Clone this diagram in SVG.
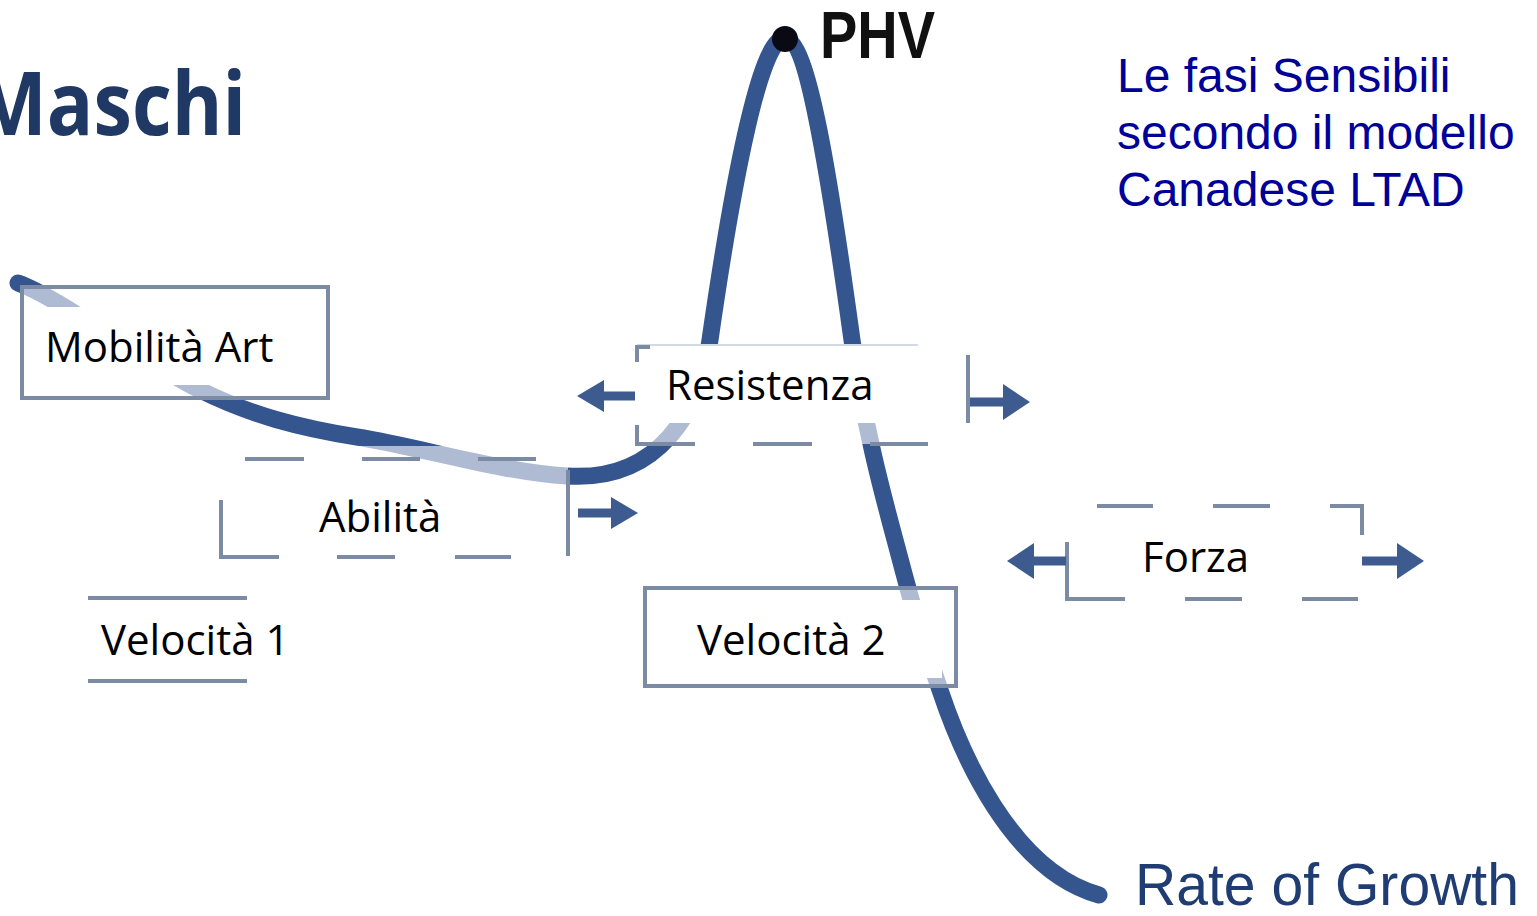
<svg xmlns="http://www.w3.org/2000/svg" width="1537" height="916" viewBox="0 0 1537 916">
<defs>
<style>
.lbl{font-family:"Open Sans","Noto Sans","DejaVu Sans",sans-serif;font-size:42px;fill:#000}
.frame{fill:#fff;fill-opacity:0.6;stroke:#7b8ba3;stroke-width:4}
.veil{fill:#fff;fill-opacity:0.6}
.pad{fill:#fff}
.dash{stroke:#7b8ba3;stroke-width:4;fill:none}
.faint{stroke:#d3dae4;stroke-width:2;fill:none}
.shaft{stroke:#3d5b8f;stroke-width:9;fill:none}
.head{fill:#3d5b8f}
.blue{font-family:"Liberation Sans",Arial,sans-serif;font-size:48px;fill:#000099}
</style>
</defs>
<rect width="1537" height="916" fill="#fff"/>

<g id="title">
<text x="-26" y="135" font-family="Open Sans, Noto Sans, sans-serif" font-weight="bold" font-size="87" fill="#1f3864" textLength="272" lengthAdjust="spacingAndGlyphs">Maschi</text>
</g>

<g id="growth-curve">
<path d="M 18,283 C 60,298 140,360 200,390 C 250,415 300,428 357,437 C 420,447 500,472 567,476 C 660,482 700,410 710,340 C 733,180 760,40 784,38 C 808,38 830,180 852,340 C 866,440 890,520 903,570 C 916,620 926,650 940,690 C 960,750 1010,870 1099,895" fill="none" stroke="#35558e" stroke-width="17" stroke-linecap="round" stroke-linejoin="round"/>
<circle cx="785" cy="39" r="13" fill="#0a0a14"/>
</g>

<g id="node-mobilita">
<rect class="frame" x="22" y="287" width="306" height="111"/>
<rect class="pad" x="25" y="307" width="300" height="78"/>
<text class="lbl" x="45" y="362">Mobilità Art</text>
</g>

<g id="node-abilita">
<rect class="veil" x="221" y="446" width="347" height="111"/>
<rect class="pad" x="232" y="484" width="328" height="66"/>
<path class="dash" d="M 245,459 H 304 M 362,459 H 420 M 478,459 H 536 M 221,500 V 557 H 279 M 337,557 H 395 M 455,557 H 511 M 568,470 V 556"/>
<text class="lbl" x="319" y="532">Abilità</text>
</g>

<g id="node-resistenza">
<rect class="veil" x="637" y="345" width="331" height="99"/>
<rect class="pad" x="645" y="345" width="273" height="78"/>
<path class="faint" d="M 637,345 H 918"/>
<path class="dash" d="M 637,362 V 347 H 650 M 637,425 V 444 H 695 M 753,444 H 812 M 870,444 H 928 M 968,355 V 423"/>
<text class="lbl" x="666" y="400">Resistenza</text>
</g>

<g id="node-forza">
<path class="dash" d="M 1097,506 H 1153 M 1213,506 H 1270 M 1330,506 H 1362 V 535 M 1067,542 V 599 H 1125 M 1185,599 H 1242 M 1302,599 H 1358"/>
<text class="lbl" x="1142" y="572">Forza</text>
</g>

<g id="node-velocita1">
<path class="dash" d="M 88,598 H 247 M 88,681 H 247"/>
<text class="lbl" x="101" y="655">Velocità 1</text>
</g>

<g id="node-velocita2">
<rect class="frame" x="645" y="588" width="311" height="98"/>
<rect class="pad" x="647" y="600" width="295" height="78"/>
<text class="lbl" x="697" y="655">Velocità 2</text>
</g>

<g id="connectors">
<path class="shaft" d="M 635,396 H 600"/>
<polygon class="head" points="577,396 604,380 604,412"/>
<path class="shaft" d="M 970,402 H 1005"/>
<polygon class="head" points="1030,402 1003,384 1003,420"/>
<path class="shaft" d="M 578,513 H 612"/>
<polygon class="head" points="638,513 611,497 611,529"/>
<path class="shaft" d="M 1066,561 H 1030"/>
<polygon class="head" points="1007,561 1034,543 1034,579"/>
<path class="shaft" d="M 1362,561 H 1398"/>
<polygon class="head" points="1424,561 1397,543 1397,579"/>
</g>

<g id="phv-label">
<text x="820" y="58" font-family="Liberation Sans, Arial, sans-serif" font-weight="bold" font-size="67" fill="#111" textLength="115" lengthAdjust="spacingAndGlyphs">PHV</text>
</g>

<g id="rate-label">
<text x="1135" y="905" font-family="Liberation Sans, Arial, sans-serif" font-size="60" fill="#1f3d73" textLength="384" lengthAdjust="spacingAndGlyphs">Rate of Growth</text>
</g>

<g id="note">
<text class="blue" x="1117" y="92">Le fasi Sensibili</text>
<text class="blue" x="1117" y="149">secondo il modello</text>
<text class="blue" x="1117" y="206">Canadese LTAD</text>
</g>
</svg>
